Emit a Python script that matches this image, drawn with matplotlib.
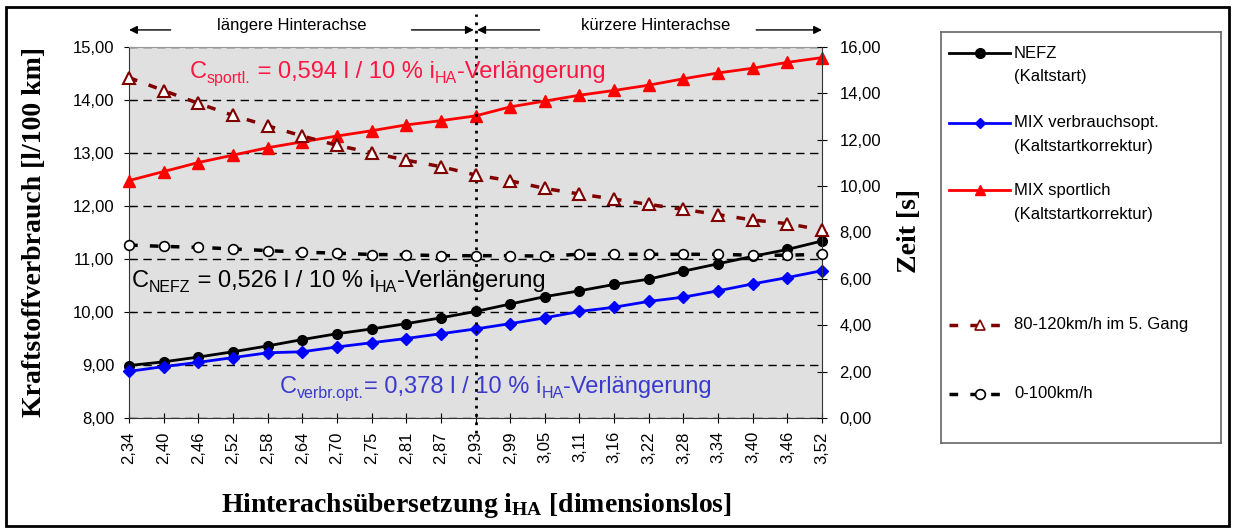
import matplotlib.pyplot as plt
import matplotlib.transforms as mtransforms
from matplotlib.lines import Line2D
from matplotlib.patches import Rectangle
from matplotlib.ticker import FuncFormatter

#########################################
# 1. Data
#########################################

i_ha = ["2,34", "2,40", "2,46", "2,52", "2,58", "2,64", "2,70", "2,75", "2,81", "2,87", "2,93",
        "2,99", "3,05", "3,11", "3,16", "3,22", "3,28", "3,34", "3,40", "3,46", "3,52"]

# Kraftstoffverbrauch [l/100 km]
nefz = [8.99, 9.06, 9.15, 9.25, 9.36, 9.48, 9.59, 9.68, 9.78, 9.89, 10.01,
        10.15, 10.29, 10.40, 10.52, 10.62, 10.77, 10.91, 11.05, 11.18, 11.34]
mix_verbrauch = [8.88, 8.97, 9.05, 9.14, 9.23, 9.25, 9.34, 9.42, 9.50, 9.59, 9.68,
                 9.78, 9.89, 10.01, 10.09, 10.20, 10.28, 10.40, 10.53, 10.65, 10.78]
mix_sportlich = [12.48, 12.65, 12.82, 12.96, 13.10, 13.21, 13.32, 13.42, 13.53, 13.61, 13.70,
                 13.87, 13.98, 14.09, 14.18, 14.28, 14.40, 14.51, 14.60, 14.71, 14.80]

# Zeit [s]
t_80_120 = [14.68, 14.12, 13.57, 13.05, 12.60, 12.16, 11.76, 11.44, 11.12, 10.84, 10.48,
            10.23, 9.90, 9.66, 9.44, 9.21, 9.00, 8.77, 8.54, 8.38, 8.11]
t_0_100 = [7.46, 7.40, 7.36, 7.29, 7.22, 7.15, 7.11, 7.05, 7.04, 7.00, 7.00,
           7.00, 6.98, 7.06, 7.06, 7.06, 7.06, 7.06, 7.02, 7.02, 7.06]

left_ticks = [8, 9, 10, 11, 12, 13, 14, 15]
right_ticks = [0, 2, 4, 6, 8, 10, 12, 14, 16]
split_index = 10  # 2,93

#########################################
# 2. Figure setup
#########################################

plt.rcParams['font.family'] = ['Liberation Sans', 'DejaVu Sans']
plt.rcParams['mathtext.default'] = 'regular'

fig = plt.figure(figsize=(12.35, 5.31), dpi=100)
ax1 = fig.add_axes([0.1045, 0.2128, 0.5611, 0.6987])
ax2 = ax1.twinx()

comma_fmt = FuncFormatter(lambda v, pos: "{:.2f}".format(v).replace(".", ","))
x = list(range(len(i_ha)))

#########################################
# 3. Consumption lines (left axis)
#########################################

ax1.set_facecolor('#E0E0E0')
ax1.plot(x, nefz, color='black', lw=2, marker='o', ms=7, clip_on=False, zorder=5)
ax1.plot(x, mix_verbrauch, color='#0000FF', lw=2, marker='D', ms=6, clip_on=False, zorder=5)
ax1.plot(x, mix_sportlich, color='#FF0000', lw=2, marker='^', ms=8, clip_on=False, zorder=5)

ax1.set_xlim(0, len(i_ha) - 1)
ax1.set_ylim(left_ticks[0], left_ticks[-1])
ax1.set_yticks(left_ticks)
ax1.yaxis.set_major_formatter(comma_fmt)
ax1.set_xticks(x)
ax1.set_xticklabels(i_ha, rotation=90)
ax1.tick_params(axis='both', direction='inout', length=7, labelsize=12, colors='black')
ax1.tick_params(axis='y', pad=7)
ax1.tick_params(axis='x', pad=6)
ax1.yaxis.grid(True, color='black', lw=1, linestyle=(0, (6, 4)))
ax1.set_axisbelow(True)
for side in ['left', 'bottom']:
    ax1.spines[side].set_color('#333333')
ax1.spines['top'].set_color('#999999')
ax1.spines['right'].set_visible(False)

#########################################
# 4. Acceleration times (right axis)
#########################################

ax2.plot(x, t_80_120, color='#800000', lw=2.5, linestyle=(0, (2.5, 3.5)), marker='^', ms=8,
         mfc='white', mec='#800000', mew=1.5, clip_on=False, zorder=4)
ax2.plot(x, t_0_100, color='black', lw=2.5, linestyle=(0, (2.5, 3.5)), marker='o', ms=7,
         mfc='white', mec='black', mew=1.2, clip_on=False, zorder=4)
ax2.set_ylim(right_ticks[0], right_ticks[-1])
ax2.set_yticks(right_ticks)
ax2.yaxis.set_major_formatter(comma_fmt)
ax2.tick_params(axis='y', direction='inout', length=7, labelsize=12, pad=9)
ax2.spines['right'].set_color('#333333')
for side in ['left', 'top', 'bottom']:
    ax2.spines[side].set_visible(False)

#########################################
# 5. Axis labels
#########################################

serif_bold = dict(family=['Liberation Serif', 'DejaVu Serif'], weight='bold', size=20)
ax1.set_ylabel("Kraftstoffverbrauch [l/100 km]", **serif_bold)
ax1.yaxis.set_label_coords(-0.118, 0.5)
ax2.set_ylabel("Zeit [s]", **serif_bold)
ax2.yaxis.set_label_coords(1.108, 0.504)
ax1.set_xlabel(r"Hinterachsübersetzung i$_{HA}$ [dimensionslos]", **serif_bold)
ax1.xaxis.set_label_coords(0.502, -0.197)

#########################################
# 6. Annotations
#########################################

trans = mtransforms.blended_transform_factory(ax1.transData, ax1.transAxes)

# dotted separator at i_HA = 2,93
ax1.plot([split_index, split_index], [-0.04, 1.09], transform=trans, color='black',
         lw=2, linestyle=(0, (1, 2)), clip_on=False, zorder=6)

arrow = dict(arrowstyle='-|>', color='black', lw=1, mutation_scale=12, shrinkA=0, shrinkB=0)
ax1.annotate("", xy=(0, 1.046), xytext=(1.2, 1.046), xycoords=trans, textcoords=trans, arrowprops=arrow)
ax1.annotate("", xy=(9.95, 1.046), xytext=(8.15, 1.046), xycoords=trans, textcoords=trans, arrowprops=arrow)
ax1.annotate("", xy=(10.05, 1.046), xytext=(11.85, 1.046), xycoords=trans, textcoords=trans, arrowprops=arrow)
ax1.annotate("", xy=(20, 1.046), xytext=(18.1, 1.046), xycoords=trans, textcoords=trans, arrowprops=arrow)
ax1.text(4.7, 1.058, "längere Hinterachse", transform=trans, ha='center', va='center', fontsize=12)
ax1.text(15.2, 1.058, "kürzere Hinterachse", transform=trans, ha='center', va='center', fontsize=12)


def slope_label(x0, y0, parts, color, size=17, sub_size=11.5):
    # chain text pieces; subscripts sit on the descent line of the first piece
    base = ax1.text(x0, y0, parts[0][0], color=color, fontsize=size, va='baseline', ha='left', zorder=7)
    last = base
    for s, is_sub in parts[1:]:
        if is_sub:
            last = ax1.annotate(s, xy=(1, 0), xycoords=(last, base), color=color,
                                fontsize=sub_size, va='baseline', ha='left', zorder=7)
        else:
            last = ax1.annotate(s, xy=(1, 0), xycoords=(last, base), color=color,
                                fontsize=size, va='bottom', ha='left', zorder=7)


slope_label(1.76, 14.42, [("C", 0), ("sportl.", 1), (" = 0,594 l / 10 % i", 0), ("HA", 1),
                          ("-Verlängerung", 0)], '#FF1744')
slope_label(0.09, 10.48, [("C", 0), ("NEFZ", 1), (" = 0,526 l / 10 % i", 0), ("HA", 1),
                          ("-Verlängerung", 0)], 'black')
slope_label(4.36, 8.47, [("C", 0), ("verbr.opt.", 1), ("= 0,378 l / 10 % i", 0), ("HA", 1),
                         ("-Verlängerung", 0)], '#3A3ACF')

#########################################
# 7. Legend box
#########################################

leg = fig.add_axes([941 / 1235, 1 - 443 / 531, 280 / 1235, 411 / 531])
leg.set_xlim(0, 280)
leg.set_ylim(411, 0)
leg.set_xticks([])
leg.set_yticks([])
for s in leg.spines.values():
    s.set_color('#666666')
    s.set_linewidth(1.2)

entries = [
    (21, ["NEFZ", "(Kaltstart)"], dict(color='black', lw=2, marker='o', ms=7)),
    (91, ["MIX verbrauchsopt.", "(Kaltstartkorrektur)"], dict(color='#0000FF', lw=2, marker='D', ms=5)),
    (158, ["MIX sportlich", "(Kaltstartkorrektur)"], dict(color='#FF0000', lw=2, marker='^', ms=7)),
    (293, ["80-120km/h im 5. Gang"], dict(color='#800000', lw=2.5, linestyle=(0, (2.5, 3.5)),
                                          marker='^', ms=7, mfc='white', mec='#800000', mew=1.2)),
    (362, ["0-100km/h"], dict(color='black', lw=2.5, linestyle=(0, (2.5, 3.5)),
                              marker='o', ms=7, mfc='white', mec='black', mew=1.2)),
]
for y, lines, style in entries:
    leg.add_line(Line2D([8, 39, 69], [y, y, y], markevery=[1], **style))
    for k, txt in enumerate(lines):
        leg.text(73, y + k * 24, txt, fontsize=12, va='center', ha='left')

# outer frame around the whole chart
fig.patches.append(Rectangle((0.005, 0.009), 0.99, 0.978, transform=fig.transFigure,
                             fill=False, lw=2, ec='black'))

plt.savefig("out.png", dpi=100)
